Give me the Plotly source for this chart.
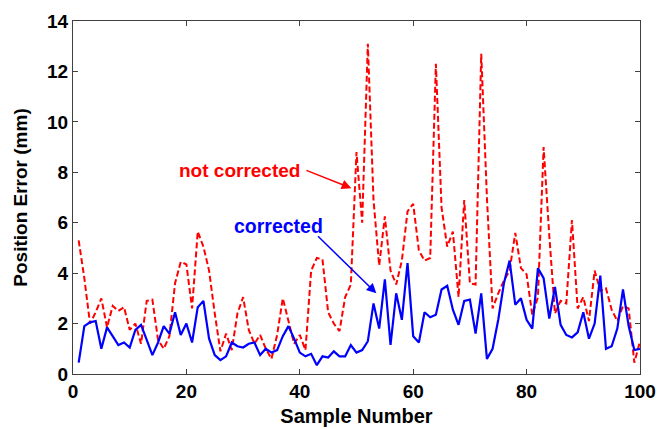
import plotly.graph_objects as go

sample = list(range(1, 101))

not_corrected = [
    5.3, 3.8, 2.0, 2.45, 3.0, 1.85, 2.7, 2.5, 2.65, 1.75,
    2.0, 1.2, 2.9, 2.95, 1.35, 1.0, 1.5, 3.6, 4.45, 4.35,
    2.6, 5.65, 5.05, 4.1, 2.4, 0.9, 1.6, 0.95, 2.4, 3.05,
    1.75, 1.2, 1.55, 1.0, 0.6, 1.55, 3.0, 2.15, 1.2, 1.55,
    0.95, 4.1, 4.6, 4.55, 2.45, 2.0, 1.7, 3.05, 3.55, 8.8,
    6.0, 13.1, 6.9, 4.3, 6.25, 4.1, 3.55, 4.5, 6.45, 6.75,
    4.9, 4.5, 4.6, 12.3, 6.6, 5.05, 5.65, 3.05, 6.9, 3.6,
    3.55, 12.7, 7.0, 2.6, 3.2, 3.7, 4.1, 5.6, 4.2, 3.95,
    2.35, 3.05, 9.0, 5.5, 2.4, 2.9, 2.8, 6.1, 2.6, 3.05,
    2.1, 4.1, 3.3, 3.4, 2.55, 2.1, 2.7, 2.6, 0.45, 1.3,
]

corrected = [
    0.45, 1.9, 2.05, 2.1, 1.0, 1.85, 1.5, 1.15, 1.25, 1.05,
    1.75, 1.95, 1.35, 0.75, 1.25, 1.9, 1.6, 2.45, 1.55, 2.0,
    1.25, 2.65, 2.9, 1.4, 0.75, 0.55, 0.7, 1.25, 1.1, 1.05,
    1.2, 1.25, 0.75, 1.0, 0.85, 0.95, 1.5, 1.9, 1.4, 0.85,
    0.7, 0.8, 0.35, 0.7, 0.65, 0.9, 0.7, 0.7, 1.15, 0.85,
    0.95, 1.3, 2.8, 1.8, 3.75, 1.15, 3.2, 2.15, 4.4, 1.5,
    1.25, 2.45, 2.25, 2.35, 3.35, 3.5, 2.55, 1.95, 2.9, 2.95,
    1.6, 3.2, 0.6, 1.0, 2.15, 3.6, 4.5, 2.75, 3.0, 2.15,
    1.8, 4.2, 3.8, 2.2, 3.45, 1.95, 1.55, 1.45, 1.65, 2.45,
    1.4, 2.0, 3.9, 1.0, 1.1, 1.8, 3.35, 1.9, 0.95, 1.0,
]

x_ticks = [0, 20, 40, 60, 80, 100]
y_ticks = [0, 2, 4, 6, 8, 10, 12, 14]

RED = "#FF0000"
BLUE = "#0000FF"
FONT = "Liberation Sans, Arial, sans-serif"

fig = go.Figure()
fig.add_trace(go.Scatter(
    x=sample, y=not_corrected, mode="lines", name="not corrected",
    line=dict(color=RED, width=2, dash="6px,3px"),
))
fig.add_trace(go.Scatter(
    x=sample, y=corrected, mode="lines", name="corrected",
    line=dict(color=BLUE, width=2.2),
))

axis_common = dict(
    showgrid=False, zeroline=False, showline=True, linecolor="#404040",
    linewidth=1, mirror="ticks", ticks="inside", ticklen=5,
    tickcolor="#404040", tickwidth=1, automargin=False,
    tickfont=dict(family=FONT, size=19, color="black", weight="bold"),
)

fig.update_xaxes(
    range=[0, 100], tickvals=x_ticks,
    title=dict(text="<b>Sample Number</b>", font=dict(family=FONT, size=20, color="black"), standoff=8),
    **axis_common,
)
fig.update_yaxes(
    range=[0, 14], tickvals=y_ticks,
    title=dict(text="<b>Position Error (mm)</b>", font=dict(family=FONT, size=19, color="black"), standoff=14),
    **axis_common,
)

annotations = [
    dict(x=29.3, y=8.06, xref="x", yref="y", text="<b>not corrected</b>",
         showarrow=False, font=dict(family=FONT, size=19, color=RED)),
    dict(x=36.2, y=5.87, xref="x", yref="y", text="<b>corrected</b>",
         showarrow=False, font=dict(family=FONT, size=19.5, color=BLUE)),
    dict(x=49.1, y=7.37, ax=40.9, ay=8.1, xref="x", yref="y", axref="x", ayref="y",
         text="", showarrow=True, arrowhead=2, arrowsize=1.3, arrowwidth=1.5,
         arrowcolor=RED),
    dict(x=53.5, y=3.2, ax=42.95, ay=5.52, xref="x", yref="y", axref="x", ayref="y",
         text="", showarrow=True, arrowhead=2, arrowsize=1.3, arrowwidth=1.5,
         arrowcolor=BLUE),
]

fig.update_layout(
    width=665, height=429,
    margin=dict(l=73, r=25, t=21, b=55),
    plot_bgcolor="white", paper_bgcolor="white",
    showlegend=False,
    annotations=annotations,
    font=dict(family=FONT),
)

fig.write_html("out.html")
